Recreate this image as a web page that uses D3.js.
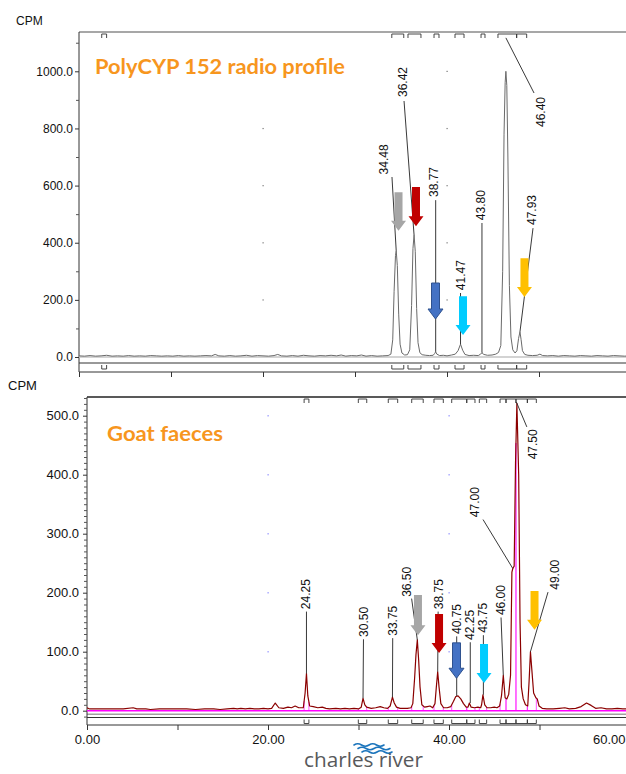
<!DOCTYPE html>
<html><head><meta charset="utf-8">
<script src="https://cdn.jsdelivr.net/npm/d3@7/dist/d3.min.js"></script>
<style>
body{margin:0;background:#fff}
svg{display:block}
text{font-family:"Liberation Sans",Arial,sans-serif}
</style>
</head><body>
<svg id="c" width="626" height="774"></svg>
<script>
// ---------------- DATA ----------------
const timeTicks = [0, 10, 20, 30, 40, 50, 60];
const timeLabels = ["0.00", "", "20.00", "", "40.00", "", "60.00"];
const profileYTicks = [0, 200, 400, 600, 800, 1000];
const faecesYTicks = [0, 100, 200, 300, 400, 500];

// PolyCYP 152 radio profile trace [time (min), CPM]
const profileTrace = [
[0,4],[0.6,3],[1.2,5],[1.8,3],[2.4,4],[3,6],[3.6,3],[4.2,4],[4.8,3],[5.4,5],[6,3],[6.6,4],[7.2,3],[7.8,5],[8.4,4],[9,3],[9.6,4],[10.2,3],[10.8,5],[11.4,3],[12,4],[12.6,3],[13.2,4],[13.8,5],[14.4,4],[14.8,9],[15.2,4],[15.8,3],[16.4,5],[17,3],[17.6,4],[18.2,6],[18.8,3],[19.4,5],[20,4],[20.6,3],[21.2,5],[21.6,9],[22,4],[22.6,3],[23.2,5],[23.8,3],[24.4,6],[25,4],[25.6,3],[26.2,5],[26.8,4],[27.4,6],[28,4],[28.5,7],[29,3],[29.6,5],[30.2,4],[30.7,7],[31.2,3],[31.8,5],[32.4,3],[33,4],[33.6,5],[33.9,10],[34.1,60],[34.25,230],[34.4,355],[34.48,372],[34.6,320],[34.75,150],[34.9,45],[35.1,14],[35.4,7],[35.7,8],[35.95,25],[36.15,180],[36.3,380],[36.42,427],[36.55,370],[36.7,170],[36.85,50],[37.05,15],[37.3,8],[37.7,6],[38.1,5],[38.5,6],[38.65,12],[38.77,18],[38.9,10],[39.2,5],[39.6,6],[40,4],[40.5,7],[40.9,10],[41.2,22],[41.47,45],[41.7,24],[41.95,9],[42.4,5],[42.9,6],[43.4,5],[43.65,10],[43.8,15],[44,9],[44.4,6],[44.9,7],[45.3,10],[45.6,16],[45.85,40],[46.05,300],[46.2,780],[46.32,960],[46.4,1000],[46.5,950],[46.62,700],[46.78,250],[46.95,70],[47.15,25],[47.4,14],[47.6,22],[47.78,65],[47.93,88],[48.05,62],[48.2,22],[48.45,9],[48.8,6],[49.3,5],[49.8,6],[50.1,10],[50.4,5],[50.9,4],[51.5,5],[52.1,3],[52.7,5],[53.3,4],[53.9,3],[54.5,5],[55.1,4],[55.7,3],[56.3,5],[56.9,4],[57.5,3],[58.1,5],[58.7,4],[59.3,3],[59.9,4],[60.5,5]
];

// Goat faeces trace [time (min), CPM]
const faecesTrace = [
[0,5],[0.3,3],[1,3],[2,3],[3,3],[4,3],[5.1,5],[5.5,3],[6.5,3],[7,2],[8,3],[9,3],[10,3],[11,3],[12,2],[13,3],[14,3],[14.7,2],[15.5,3],[16.2,4],[16.6,3],[17,4],[17.5,3],[18,4],[18.5,3],[19,3],[19.5,4],[20,3],[20.4,4],[20.8,13],[21.2,5],[21.7,4],[22.2,6],[22.6,5],[23,8],[23.4,5],[23.9,5],[24.1,30],[24.25,63],[24.4,25],[24.6,8],[25,7],[25.5,5],[26,6],[26.4,4],[26.8,3],[27.5,4],[28,3],[28.5,4],[29,3],[29.5,4],[30,3],[30.3,6],[30.5,21],[30.7,10],[30.9,6],[31.4,4],[31.9,5],[32.4,7],[32.8,5],[33.2,4],[33.5,8],[33.75,23],[33.95,13],[34.2,6],[34.6,4],[35,4],[35.4,4],[35.8,5],[36,12],[36.2,55],[36.35,95],[36.5,120],[36.65,85],[36.8,40],[37,10],[37.3,6],[37.6,7],[37.9,8],[38.2,5],[38.45,12],[38.6,40],[38.75,66],[38.9,40],[39.1,12],[39.4,5],[39.8,5],[40.2,7],[40.5,16],[40.75,24],[41,25],[41.3,20],[41.6,12],[41.9,6],[42.1,6],[42.25,13],[42.45,6],[42.8,5],[43.2,6],[43.5,5],[43.6,10],[43.75,27],[43.95,10],[44.2,5],[44.6,5],[45,6],[45.3,5],[45.6,8],[45.8,25],[46,60],[46.2,22],[46.4,20],[46.6,28],[46.8,60],[46.95,235],[47.05,241],[47.2,245],[47.35,420],[47.5,521],[47.7,400],[47.85,150],[48,40],[48.2,20],[48.45,10],[48.7,8],[48.85,50],[49,100],[49.15,70],[49.35,30],[49.6,22],[49.75,20],[49.95,8],[50.3,4],[50.8,3],[51.5,3],[52.2,4],[52.8,5],[53.3,3],[54,4],[54.6,7],[55.2,13],[55.7,9],[56.2,4],[56.8,5],[57.4,3],[58,3],[58.6,4],[59.2,3],[60,3],[60.5,3]
];

// integration windows [start, end] (min)
const profileWindows = [[2.47,3.0],[34.0,35.3],[35.76,37.17],[38.59,39.13],[40.87,41.85],[43.7,44.13],[45.54,47.57],[47.57,48.66]];
const faecesWindows = [[23.99,24.52],[29.98,30.91],[33.29,34.33],[35.88,37.15],[38.34,39.37],[40.3,41.96],[41.96,42.87],[43.35,44.16],[45.64,46.3],[46.3,47.4],[47.4,48.66],[48.66,49.65]];

// peak labels: name, peak time t, leader end CPM ev, label at (lt, lv), leader start (kt, kv)
const profileLabels = [
  {name:"34.48", t:34.48, ev:372, lt:33.10, lv:639, kt:34.02, kv:630},
  {name:"36.42", t:36.42, ev:427, lt:35.22, lv:910, kt:35.33, kv:896},
  {name:"38.77", t:38.77, ev:18,  lt:38.53, lv:560, kt:38.77, kv:549},
  {name:"41.47", t:41.47, ev:45,  lt:41.47, lv:234, kt:41.47, kv:224},
  {name:"43.80", t:43.80, ev:15,  lt:43.64, lv:479, kt:43.80, kv:469},
  {name:"46.40", t:46.40, ev:1117,lt:50.20, lv:805, kt:49.46, kv:924},
  {name:"47.93", t:47.93, ev:88,  lt:49.24, lv:462, kt:49.35, kv:451}
];
const faecesLabels = [
  {name:"24.25", t:24.25, ev:63,  lt:24.20, lv:172, kt:24.25, kv:168},
  {name:"30.50", t:30.50, ev:21,  lt:30.60, lv:125, kt:30.55, kv:121},
  {name:"33.75", t:33.75, ev:23,  lt:33.80, lv:127, kt:33.78, kv:123},
  {name:"36.50", t:36.50, ev:120, lt:35.30, lv:193, kt:35.87, kv:190},
  {name:"38.75", t:38.75, ev:66,  lt:38.90, lv:172, kt:38.80, kv:168},
  {name:"40.75", t:40.85, ev:25,  lt:40.85, lv:130, kt:40.85, kv:126},
  {name:"42.25", t:42.35, ev:13,  lt:42.30, lv:120, kt:42.35, kv:116},
  {name:"43.75", t:43.80, ev:27,  lt:43.75, lv:132, kt:43.80, kv:128},
  {name:"46.00", t:46.00, ev:60,  lt:45.70, lv:162, kt:45.75, kv:158},
  {name:"47.00", t:47.05, ev:241, lt:42.90, lv:328, kt:43.76, kv:324},
  {name:"47.50", t:47.45, ev:523, lt:49.30, lv:426, kt:48.60, kv:481},
  {name:"49.00", t:49.00, ev:100, lt:51.70, lv:205, kt:50.94, kv:201}
];

// metabolite arrows: centre time, from CPM, to (tip) CPM
const arrowColors = ["#a6a6a6", "#c00000", "#4472c4", "#00ccff", "#ffc000"];
const profileArrows = [
  {t:34.73, from:577, to:442},
  {t:36.63, from:595, to:458},
  {t:38.75, from:259, to:133},
  {t:41.74, from:213, to:77},
  {t:48.42, from:346, to:210}
];
const faecesArrows = [
  {t:36.57, from:196, to:128},
  {t:38.90, from:164, to:98},
  {t:40.83, from:115, to:55},
  {t:43.87, from:113, to:47},
  {t:49.45, from:203, to:137}
];

// ---------------- DRAWING ----------------
const svg = d3.select("#c");
const W = 626;

function valAt(trace, t) {
  const i = d3.bisector(d => d[0]).left(trace, t);
  if (i <= 0) return trace[0][1];
  if (i >= trace.length) return trace[trace.length - 1][1];
  const a = trace[i - 1], b = trace[i];
  return a[1] + (b[1] - a[1]) * (t - a[0]) / (b[0] - a[0]);
}

function drawPanel(p) {
  const g = svg.append("g");
  const x = d3.scaleLinear().domain([0, 60]).range(p.xRange);
  const y = d3.scaleLinear().domain([0, p.yMax]).range(p.yRange);
  const x0 = p.xRange[0];

  const clipId = "clip" + p.id;
  svg.append("clipPath").attr("id", clipId).append("rect")
    .attr("x", x0).attr("y", p.frameTop).attr("width", W - x0).attr("height", p.lowerLine - p.frameTop);

  // grid dots
  [20, 40].forEach(tt => {
    p.yTicks.filter(v => v > 0).forEach(v => {
      g.append("rect").attr("x", x(tt) - 0.5).attr("y", y(v) - 0.5)
        .attr("width", 1.2).attr("height", 1.2).attr("fill", p.dotColor);
    });
  });

  // frame lines
  g.append("line").attr("x1", x0).attr("x2", W).attr("y1", p.frameTop).attr("y2", p.frameTop)
    .attr("stroke", p.topColor).attr("stroke-width", 1.3);
  if (p.grayLine) {
    g.append("line").attr("x1", x0).attr("x2", W).attr("y1", p.grayLine).attr("y2", p.grayLine)
      .attr("stroke", "#a0a0a0").attr("stroke-width", 1.6);
  }
  g.append("line").attr("x1", x0).attr("x2", W).attr("y1", p.lowerLine).attr("y2", p.lowerLine)
    .attr("stroke", "#333").attr("stroke-width", 1);
  g.append("line").attr("x1", x0).attr("x2", W).attr("y1", p.axisY).attr("y2", p.axisY)
    .attr("stroke", "#333").attr("stroke-width", 1);
  g.append("line").attr("x1", x0).attr("x2", x0).attr("y1", p.frameTop).attr("y2", p.axisY)
    .attr("stroke", "#333").attr("stroke-width", 1);

  // y axis (major + minor)
  const yAxis = d3.axisLeft(y).tickValues(p.yTicks).tickSize(4).tickSizeOuter(0)
    .tickPadding(p.yPad).tickFormat(d3.format(".1f"));
  const ya = g.append("g").attr("transform", `translate(${x0},0)`).call(yAxis);
  ya.select(".domain").remove();
  ya.selectAll("text").attr("font-size", p.yFont).attr("fill", "#111")
    .style("font-family", '"Liberation Sans",Arial,sans-serif');
  ya.selectAll("line").attr("stroke", "#333");
  const yMinor = d3.axisLeft(y).tickValues(p.yMinor).tickSize(3).tickSizeOuter(0).tickFormat("");
  const ym = g.append("g").attr("transform", `translate(${x0},0)`).call(yMinor);
  ym.select(".domain").remove();
  ym.selectAll("line").attr("stroke", "#555");

  // x axis
  const xAxis = d3.axisBottom(x).tickValues(timeTicks).tickSize(5).tickSizeOuter(0).tickPadding(5)
    .tickFormat((d, i) => p.xLabels ? timeLabels[i] : "");
  const xa = g.append("g").attr("transform", `translate(0,${p.axisY})`).call(xAxis);
  xa.select(".domain").remove();
  xa.selectAll("line").attr("stroke", "#333");
  xa.selectAll("text").attr("font-size", 13).attr("fill", "#111")
    .style("font-family", '"Liberation Sans",Arial,sans-serif');
  if (p.xLabels) {
    xa.selectAll(".tick").each(function(d) {
      const t = d3.select(this).select("text");
      const w = t.node().getComputedTextLength();
      const cx = x(d);
      const over = cx + w / 2 - 625;
      if (over > 0) t.attr("dx", -over);
    });
  }

  // CPM label
  svg.append("text").attr("x", p.cpmX).attr("y", p.cpmY).attr("font-size", p.cpmFont)
    .attr("fill", "#111").text("CPM");

  // baseline
  if (p.baseColor) {
    g.append("line").attr("clip-path", `url(#${clipId})`)
      .attr("x1", x0).attr("x2", W).attr("y1", y(0)).attr("y2", y(0))
      .attr("stroke", p.baseColor).attr("stroke-width", p.baseWidth);
  }

  // windows brackets
  p.windows.forEach(([a, b]) => {
    const xa1 = x(a), xb1 = x(b);
    g.append("path").attr("d", `M${xa1},${p.frameTop + 6}V${p.frameTop + 2}H${xb1}V${p.frameTop + 6}`)
      .attr("fill", "none").attr("stroke", "#333").attr("stroke-width", 0.9);
    g.append("path").attr("d", `M${xa1},${p.lowerLine + 2}V${p.lowerLine + 6}H${xb1}V${p.lowerLine + 2}`)
      .attr("fill", "none").attr("stroke", "#333").attr("stroke-width", 0.9);
    if (p.dropColor) {
      [a, b].forEach(tt => {
        g.append("line").attr("x1", x(tt)).attr("x2", x(tt)).attr("y1", y(0)).attr("y2", y(valAt(p.trace, tt)))
          .attr("stroke", p.dropColor).attr("stroke-width", 0.9).attr("stroke-opacity", 0.75);
      });
    }
  });

  // trace
  g.append("path").datum(p.trace).attr("clip-path", `url(#${clipId})`)
    .attr("d", d3.line().x(d => x(d[0])).y(d => y(d[1])))
    .attr("fill", "none").attr("stroke", p.traceColor).attr("stroke-width", p.traceWidth)
    .attr("stroke-linejoin", "round");

  // leaders + labels
  p.labels.forEach(L => {
    g.append("line").attr("x1", x(L.kt)).attr("y1", y(L.kv)).attr("x2", x(L.t)).attr("y2", y(L.ev))
      .attr("stroke", "#222").attr("stroke-width", 0.9);
    const tx = x(L.lt), ty = y(L.lv);
    g.append("text").attr("transform", `translate(${tx},${ty}) rotate(-90)`)
      .attr("dy", "0.35em").attr("font-size", 12).attr("fill", "#111").text(L.name);
  });

  // arrows
  p.arrows.forEach((A, i) => {
    const cx = x(A.t), yt = y(A.from), yp = y(A.to);
    const sw = 8, hw = 15, hl = 10;
    const d = `M${cx - sw / 2},${yt}V${yp - hl}H${cx - hw / 2}L${cx},${yp}L${cx + hw / 2},${yp - hl}H${cx + sw / 2}V${yt}Z`;
    g.append("path").attr("d", d).attr("fill", arrowColors[i])
      .attr("stroke", i === 2 ? "#2f528f" : "none").attr("stroke-width", 1);
  });

  // title
  const title = svg.append("text").attr("x", p.titleX).attr("y", p.titleY)
    .attr("font-size", 21).attr("font-weight", "bold").attr("fill", "#f7961e")
    .style("font-family", "Lato, 'Open Sans', sans-serif").text(p.title);
  title.attr("textLength", p.titleW).attr("lengthAdjust", "spacingAndGlyphs");
}

drawPanel({
  id: "top", trace: profileTrace, windows: profileWindows, labels: profileLabels, arrows: profileArrows,
  xRange: [79, 631], yMax: 1000, yRange: [357, 71.3],
  yTicks: profileYTicks, yMinor: [100, 300, 500, 700, 900, 1100], yFont: 12, yPad: 2,
  frameTop: 32, lowerLine: 363, axisY: 372, topColor: "#8a8a8a",
  xLabels: false, dotColor: "#777", cpmX: 16, cpmY: 25, cpmFont: 12,
  baseColor: "#c4c4c4", baseWidth: 1.5, dropColor: null,
  traceColor: "#6a6a6a", traceWidth: 1,
  title: "PolyCYP 152 radio profile", titleX: 95, titleY: 74, titleW: 250
});

// white backdrop for lower panel
svg.append("rect").attr("x", 0).attr("y", 378).attr("width", W).attr("height", 774 - 378).attr("fill", "#fff");

drawPanel({
  id: "bot", trace: faecesTrace, windows: faecesWindows, labels: faecesLabels, arrows: faecesArrows,
  xRange: [87, 630], yMax: 500, yRange: [710.7, 415.7],
  yTicks: faecesYTicks, yMinor: d3.range(-10, 531, 10).filter(v => v % 100 !== 0), yFont: 13, yPad: 4,
  frameTop: 397, lowerLine: 717.5, axisY: 725, topColor: "#222", grayLine: 714.3,
  xLabels: true, dotColor: "#7f7fff", cpmX: 8, cpmY: 390, cpmFont: 13,
  baseColor: "#ff00ff", baseWidth: 1.5, dropColor: "#ff00ff",
  traceColor: "#8b0000", traceWidth: 1.2,
  title: "Goat faeces", titleX: 107, titleY: 441, titleW: 116
});

// Charles River logo
const logo = svg.append("g");
[[354, 745, 30], [358, 748.5, 32], [362, 752, 30]].forEach(([lx, ly, lw]) => {
  const n = 2, step = lw / n;
  let d = `M${lx},${ly}`;
  for (let k = 0; k < n; k++) {
    const sx = lx + k * step;
    d += `Q${sx + step * 0.25},${ly - 2.5} ${sx + step * 0.5},${ly}` +
         `T${sx + step},${ly}`;
  }
  logo.append("path").attr("d", d).attr("fill", "none").attr("stroke", "#1c75bc").attr("stroke-width", 1.6)
    .attr("stroke-linecap", "round");
});
logo.append("text").attr("x", 304).attr("y", 767).attr("font-size", 20).attr("fill", "#58595b")
  .attr("textLength", 119).attr("lengthAdjust", "spacingAndGlyphs")
  .style("font-family", "'Open Sans', 'Liberation Sans', sans-serif").text("charles river");
</script>
</body></html>
